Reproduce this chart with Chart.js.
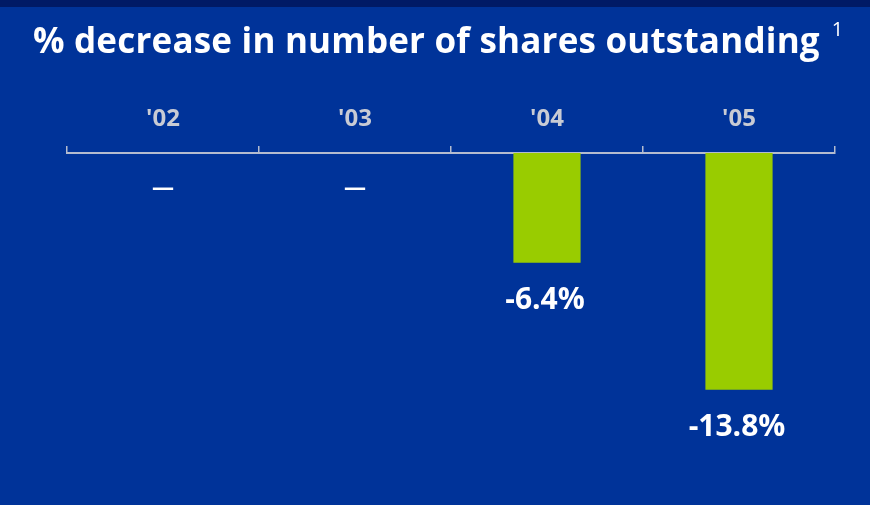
<!DOCTYPE html>
<html>
<head>
<meta charset="utf-8">
<script src="https://cdn.jsdelivr.net/npm/chart.js@4"></script>
<style>
  html, body { margin: 0; padding: 0; background: #003399; }
  #wrap { position: relative; width: 870px; height: 505px; overflow: hidden; }
  #strip { position: absolute; left: 0; top: 0; width: 870px; height: 7px; background: #001a66; }
  #title {
    position: absolute; left: 33px; top: 22px; margin: 0;
    font-family: "Open Sans", sans-serif; font-weight: 700; font-size: 35px;
    letter-spacing: 0.2px;
    line-height: 1; color: #ffffff; white-space: nowrap;
  }
  #title sup { font-weight: 400; font-size: 20px; line-height: 1; position: relative; top: -3px; vertical-align: top; margin-left: 12px; }
  #chartBox { position: absolute; left: 0; top: 0; width: 870px; height: 505px; }
</style>
</head>
<body>
<div id="wrap">
  <div id="strip"></div>
  <div id="chartBox"><canvas id="chart"></canvas></div>
  <h1 id="title">% decrease in number of shares outstanding<sup>1</sup></h1>
</div>
<script>
// Years and share count change (%), '02 and '03 had no decrease
const years = ["'02", "'03", "'04", "'05"];
const decrease = [null, null, -6.4, -13.8];
const valueLabels = ['—', '—', '-6.4%', '-13.8%'];

const barColor = '#99cc00';
const axisColor = '#b4bccf';

// Draw the value labels under each bar (or under the axis when empty)
const valueLabelPlugin = {
    id: 'valueLabels',
    afterDatasetsDraw(chart) {
        const ctx = chart.ctx;
        const meta = chart.getDatasetMeta(0);
        const yScale = chart.scales.y;
        ctx.save();
        ctx.fillStyle = '#ffffff';
        ctx.textAlign = 'center';
        ctx.textBaseline = 'middle';
        meta.data.forEach((bar, i) => {
            const v = decrease[i];
            const yBase = yScale.getPixelForValue(v === null ? 0 : v);
            const x = chart.scales.x.getPixelForValue(i);
            if (v === null) {
                ctx.font = '700 22px "Open Sans"';
                ctx.fillText(valueLabels[i], x, yBase + 36);
            } else {
                ctx.font = '700 30px "Open Sans"';
                ctx.fillText(valueLabels[i], x - 2, yBase + 38);
            }
        });
        ctx.restore();
    }
};

const ctx = document.getElementById('chart').getContext('2d');
const chart = new Chart(ctx, {
    type: 'bar',
    data: {
        labels: years,
        datasets: [{
            data: decrease,
            backgroundColor: barColor,
            borderWidth: 0,
            barPercentage: 0.35,
            categoryPercentage: 1.0
        }]
    },
    options: {
        responsive: true,
        maintainAspectRatio: false,
        animation: false,
        layout: {
            padding: { left: 67, right: 35, top: 0, bottom: 9 }
        },
        plugins: {
            legend: { display: false },
            tooltip: { enabled: false },
            title: { display: false }
        },
        scales: {
            x: {
                position: 'top',
                afterFit: function(scale) {
                    scale.height = 153;
                },
                grid: {
                    display: true,
                    offset: true,
                    drawOnChartArea: false,
                    drawTicks: true,
                    tickLength: 7,
                    color: axisColor,
                    lineWidth: 1.5
                },
                border: {
                    display: true,
                    color: axisColor,
                    width: 2
                },
                ticks: {
                    color: '#c8cbd4',
                    padding: 12,
                    font: {
                        family: '"Open Sans"',
                        weight: '700',
                        size: 24
                    }
                }
            },
            y: {
                display: false,
                min: -20,
                max: 0
            }
        }
    },
    plugins: [valueLabelPlugin]
});
</script>
</body>
</html>
